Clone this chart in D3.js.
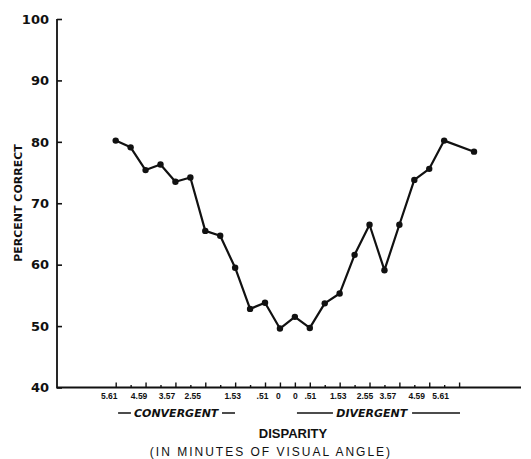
<!DOCTYPE html>
<html>
<head>
<meta charset="utf-8">
<script src="https://cdn.jsdelivr.net/npm/d3@7"></script>
<style>
  body { margin: 0; background: #fff; }
  svg { display: block; }
</style>
</head>
<body>
<svg id="chart" width="531" height="459"></svg>
<script>
// Disparity runs in steps of 0.51 min of arc: 12 convergent slots (5.61 → 0),
// then 12 divergent slots (0 → 5.61).
const tickSlots = d3.range(24);
const tickLabels = ["5.61", "", "4.59", "", "3.57", "", "2.55", "", "1.53", "", ".51", "0",
                    "0", ".51", "", "1.53", "", "2.55", "", "3.57", "", "4.59", "", "5.61"];

// Slot of each measured point and its percent correct
const pointSlots = [0, 1, 2, 3, 4, 5, 6, 7, 8, 9, 10, 11, 12, 13, 14, 15, 16, 17, 18, 19, 20, 21, 22, 24];
const percentCorrect = [80.2, 79.1, 75.4, 76.3, 73.5, 74.2, 65.5, 64.7, 59.5, 52.8, 53.8, 49.6,
                        51.5, 49.7, 53.7, 55.3, 61.6, 66.5, 59.1, 66.5, 73.8, 75.6, 80.2, 78.4];

const yTicks = [40, 50, 60, 70, 80, 90, 100];

// Hand-lettered tick numbers sit a little left of their ticks (px)
const labelShift = [-7, 0, -7, 0, -9, 0, -13, 0, -3, 0, -3, -2,
                    0, 0, 0, -2, 0, -5, 0, -12, 0, -13, 0, -19];

const svg = d3.select("#chart");
const axisX0 = 57, axisX1 = 521, axisY = 387.5, axisTop = 19;

const x = d3.scaleLinear().domain([0, 23]).range([115.7, 459.1]);
const y = d3.scaleLinear().domain([40, 100]).range([axisY, axisTop]);

const ink = "#111";

// Axis frame
svg.append("path")
  .attr("d", `M${axisX0},${axisTop}V${axisY}H${axisX1}`)
  .attr("fill", "none")
  .attr("stroke", ink)
  .attr("stroke-width", 1.8);

// Y axis ticks and numbers
const yAxis = svg.append("g")
  .attr("transform", `translate(${axisX0},0)`)
  .call(d3.axisLeft(y).tickValues(yTicks).tickSizeInner(-5).tickSizeOuter(0).tickPadding(8));
yAxis.select(".domain").remove();
yAxis.selectAll(".tick line").attr("stroke", ink).attr("stroke-width", 1.6);
yAxis.selectAll(".tick text")
  .attr("fill", ink)
  .style("font-family", "'DejaVu Sans', sans-serif")
  .style("font-weight", "bold")
  .style("font-size", "13px");

// X axis ticks: tall where numbered, short in between
const xAxis = svg.append("g")
  .attr("transform", `translate(0,${axisY})`)
  .call(d3.axisBottom(x).tickValues(tickSlots).tickFormat(i => tickLabels[i])
        .tickSizeInner(-5).tickSizeOuter(0).tickPadding(5));
xAxis.select(".domain").remove();
xAxis.selectAll(".tick line")
  .attr("stroke", ink)
  .attr("stroke-width", 1.4)
  .attr("y2", i => tickLabels[i] ? -5 : -2.5);
xAxis.selectAll(".tick text")
  .attr("fill", ink)
  .attr("dx", i => labelShift[i])
  .style("font-family", "'Liberation Sans', Arial, sans-serif")
  .style("font-weight", "bold")
  .style("font-size", "8.5px");

// Convergent / divergent side captions with rules either side
const sideY = 417;
const sides = [
  { text: "CONVERGENT", at: 4.05, rules: [[0.16, 1.02], [7.12, 7.99]] },
  { text: "DIVERGENT", at: 17.15, rules: [[12.14, 14.55], [19.85, 23.06]] }
];
sides.forEach(s => {
  svg.append("text")
    .attr("x", x(s.at)).attr("y", sideY)
    .attr("text-anchor", "middle")
    .attr("fill", ink)
    .style("font-family", "'DejaVu Sans', sans-serif")
    .style("font-weight", "bold")
    .style("font-style", "italic")
    .style("font-size", "11px")
    .text(s.text);
  s.rules.forEach(r => {
    svg.append("line")
      .attr("x1", x(r[0])).attr("x2", x(r[1]))
      .attr("y1", sideY - 4).attr("y2", sideY - 4)
      .attr("stroke", ink).attr("stroke-width", 1.5);
  });
});

// Axis titles
svg.append("text")
  .attr("x", 293).attr("y", 438)
  .attr("text-anchor", "middle")
  .attr("fill", ink)
  .style("font-family", "'Liberation Sans', Arial, sans-serif")
  .style("font-size", "13px")
  .style("font-weight", "bold")
  .text("DISPARITY");

svg.append("text")
  .attr("x", 271).attr("y", 456)
  .attr("text-anchor", "middle")
  .attr("fill", ink)
  .style("font-family", "'Liberation Sans', Arial, sans-serif")
  .style("font-size", "12px")
  .style("letter-spacing", "2px")
  .text("(IN MINUTES OF VISUAL ANGLE)");

svg.append("text")
  .attr("transform", `translate(22,203) rotate(-90)`)
  .attr("text-anchor", "middle")
  .attr("fill", ink)
  .style("font-family", "'DejaVu Sans', sans-serif")
  .style("font-weight", "bold")
  .style("font-size", "11px")
  .text("PERCENT CORRECT");

// Data line and markers
const pts = pointSlots.map((s, i) => ({ s, v: percentCorrect[i] }));

svg.append("path")
  .datum(pts)
  .attr("d", d3.line().x(d => x(d.s)).y(d => y(d.v)))
  .attr("fill", "none")
  .attr("stroke", ink)
  .attr("stroke-width", 2.2)
  .attr("stroke-linejoin", "round");

svg.selectAll("circle.pt")
  .data(pts)
  .join("circle")
  .attr("class", "pt")
  .attr("cx", d => x(d.s))
  .attr("cy", d => y(d.v))
  .attr("r", 3.2)
  .attr("fill", ink);
</script>
</body>
</html>
